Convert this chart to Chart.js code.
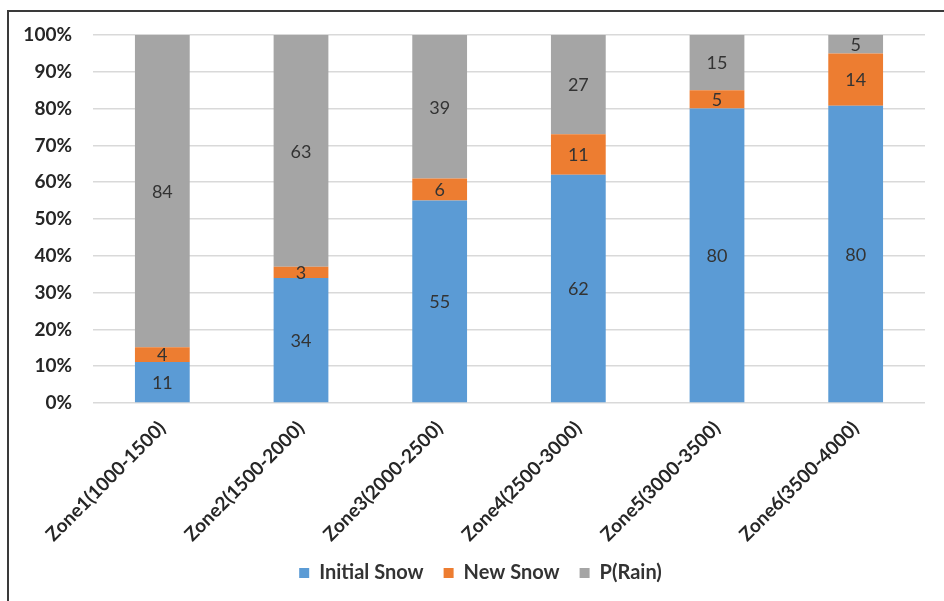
<!DOCTYPE html>
<html>
<head>
<meta charset="utf-8">
<script src="https://cdn.jsdelivr.net/npm/chart.js@4"></script>
<style>
  html, body { margin: 0; padding: 0; background: #fff; overflow: hidden; }
  #wrap { position: relative; width: 944px; height: 601px; }
  #frame { position: absolute; left: 7px; top: 10px; width: 960px; height: 620px;
           border-top: 2px solid #3a3a3a; border-left: 2px solid #3a3a3a; pointer-events: none; }
  canvas { position: absolute; left: 0; top: 0; }
</style>
</head>
<body>
<div id="wrap">
  <canvas id="c" width="944" height="601"></canvas>
  <div id="frame"></div>
</div>
<script>
const categories = ["Zone1(1000-1500)", "Zone2(1500-2000)", "Zone3(2000-2500)", "Zone4(2500-3000)", "Zone5(3000-3500)", "Zone6(3500-4000)"];
const initialSnow = [11, 34, 55, 62, 80, 80];
const newSnow = [4, 3, 6, 11, 5, 14];
const pRain = [84, 63, 39, 27, 15, 5];
const seriesNames = ["Initial Snow", "New Snow", "P(Rain)"];
const yTickValues = [0, 10, 20, 30, 40, 50, 60, 70, 80, 90, 100];

const raw = [initialSnow, newSnow, pRain];
const totals = categories.map((_, i) => raw.reduce((s, arr) => s + arr[i], 0));
const toPct = arr => arr.map((v, i) => v / totals[i] * 100);

const colors = ["#5B9BD5", "#ED7D31", "#A5A5A5"];
const FONT = "Lato, 'Noto Sans', sans-serif";

const labelPlugin = {
  id: "segLabels",
  afterDatasetsDraw(chart) {
    const ctx = chart.ctx;
    ctx.save();
    ctx.font = "18px " + FONT;
    ctx.fillStyle = "#333333";
    ctx.textAlign = "center";
    ctx.textBaseline = "middle";
    chart.data.datasets.forEach((ds, di) => {
      const meta = chart.getDatasetMeta(di);
      meta.data.forEach((bar, i) => {
        const yMid = (bar.y + bar.base) / 2;
        ctx.fillText(String(raw[di][i]), bar.x, yMid + 1);
      });
    });
    ctx.restore();
  }
};

const legendShift = {
  id: "legendShift",
  afterLayout(chart) {
    const lg = chart.legend;
    if (lg) { lg.left += 18; lg.right += 18; }
  }
};

new Chart(document.getElementById("c"), {
  type: "bar",
  data: {
    labels: categories,
    datasets: raw.map((arr, k) => ({
      label: seriesNames[k],
      data: toPct(arr),
      backgroundColor: colors[k],
      borderWidth: 0,
      categoryPercentage: 1,
      barPercentage: 0.395
    }))
  },
  options: {
    responsive: false,
    animation: false,
    layout: { padding: { top: 35, left: 0, right: 19, bottom: 8 } },
    plugins: {
      legend: {
        position: "bottom",
        labels: {
          boxWidth: 10, boxHeight: 10, padding: 20,
          color: "#333333",
          font: { family: FONT, size: 20, weight: "bold" }
        }
      },
      tooltip: { enabled: false }
    },
    scales: {
      x: {
        stacked: true,
        grid: { display: false, drawTicks: false },
        border: { display: false },
        ticks: {
          minRotation: 45, maxRotation: 45, padding: 14,
          color: "#262626",
          font: { family: FONT, size: 19, weight: "bold" }
        },
        afterFit(scale) { scale.height = 140; }
      },
      y: {
        stacked: true,
        min: 0, max: 100,
        afterBuildTicks(scale) { scale.ticks = yTickValues.map(v => ({ value: v })); },
        grid: { color: "#D9D9D9", lineWidth: 1.5, drawTicks: false },
        border: { display: false },
        ticks: {
          padding: 21,
          color: "#262626",
          font: { family: FONT, size: 19, weight: "bold" },
          callback: v => v + "%"
        },
        afterFit(scale) { scale.width = 93; }
      }
    }
  },
  plugins: [labelPlugin, legendShift]
});
</script>
</body>
</html>
